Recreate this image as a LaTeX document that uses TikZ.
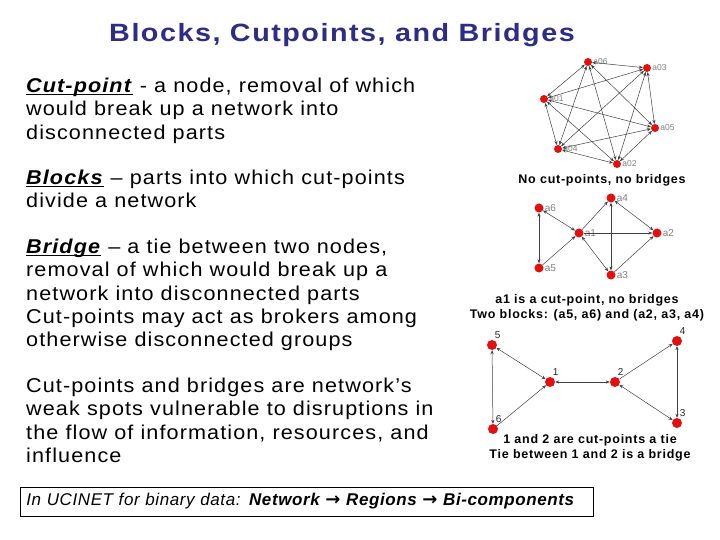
\documentclass[tikz,border=0pt]{standalone}
\usepackage{fontspec}
\setmainfont{Liberation Sans}
\newfontfamily\titlefont[FakeStretch=1.15,LetterSpace=6]{Liberation Sans}
\newfontfamily\bodyfont[FakeStretch=1.08,LetterSpace=5.5]{Liberation Sans}
\newfontfamily\capfont[LetterSpace=6]{Liberation Sans}
\newfontfamily\boxfont[LetterSpace=3.5]{Liberation Sans}
\newfontfamily\arrowfont{DejaVu Sans}
\usetikzlibrary{arrows.meta}
\definecolor{titleblue}{HTML}{2D2D87}
\definecolor{nodered}{HTML}{E41010}
\newcommand{\ulb}[1]{\underline{\smash{\textbf{\textit{#1}}}}}
\newcommand{\barr}{{\arrowfont\bfseries\fontsize{18}{19}\selectfont →}}
\tikzset{
  vx/.style={circle,fill=nodered,inner sep=0pt,minimum size=#1},
  vx/.default=9pt,
  body/.style={anchor=north west,inner sep=0pt,align=left,font=\bodyfont\fontsize{20}{23.2}\selectfont},
  captext/.style={inner sep=0pt,align=center,font=\capfont\bfseries\fontsize{12.5}{15}\selectfont},
  lbl/.style={text=gray,inner sep=1pt,font=\fontsize{8.5}{9}\selectfont},
  lblb/.style={text=gray,inner sep=1pt,font=\fontsize{10}{11}\selectfont},
  lblc/.style={text=black!85,inner sep=1pt,font=\fontsize{10}{11}\selectfont},
  tie/.style={black!75,line width=0.5pt,{Stealth[length=4pt,width=3.2pt]}-{Stealth[length=4pt,width=3.2pt]}},
  arc/.style={black!75,line width=0.5pt,-{Stealth[length=4pt,width=3.2pt]}},
}
\begin{document}
\begin{tikzpicture}[x=1pt,y=-1pt]
\useasboundingbox (0,0) rectangle (720,540);
% title
\node[text=titleblue,anchor=base,inner sep=0pt,font=\titlefont\bfseries\fontsize{25}{30}\selectfont] (title) at (342,42) {Blocks, Cutpoints, and Bridges};
% body text
\node[body] (p1) at (26,78) {\ulb{Cut-point} - a node, removal of which\\would break up a network into\\disconnected parts};
\node[body] (p2) at (26,170) {\ulb{Blocks} – parts into which cut-points\\divide a network};
\node[body] (p3) at (26,239) {\ulb{Bridge} – a tie between two nodes,\\removal of which would break up a\\network into disconnected parts\\Cut-points may act as brokers among\\otherwise disconnected groups};
\node[body] (p4) at (26,378) {Cut-points and bridges are network’s\\weak spots vulnerable to disruptions in\\the flow of information, resources, and\\influence};
% bottom box
\node[draw=black,line width=0.8pt,anchor=west,minimum width=573pt,minimum height=29pt,inner xsep=6pt,text width=561pt,align=left,font=\boxfont\fontsize{17}{19}\selectfont\itshape] (ucinet) at (20,501.5)
 {In UCINET for binary data: \textbf{Network \barr{} Regions \barr{} Bi-components}};
% graph 1
\node[vx=8pt] (a06) at (588,62) {};
\node[vx=8pt] (a03) at (647,68) {};
\node[vx=8pt] (a01) at (544,99) {};
\node[vx=8pt] (a05) at (655,128) {};
\node[vx=8pt] (a04) at (558,149) {};
\node[vx=8pt] (a02) at (617,164) {};
\foreach \n in {a06,a03,a01,a05,a04,a02}{\node[lbl,anchor=west] at (\n.east) {\n};}
\foreach \a/\b in {a06/a03,a06/a01,a06/a04,a06/a02,a06/a05,a03/a01,a03/a05,a03/a04,a03/a02,a01/a04,a01/a05,a01/a02,a04/a02,a04/a05,a02/a05}
  {\draw[tie] (\a) -- (\b);}
\node[captext] (c1) at (602,180) {No cut-points, no bridges};
% graph 2
\node[vx] (b6) at (539,208) {};
\node[vx] (b4) at (611,198) {};
\node[vx] (b1) at (579,233) {};
\node[vx] (b2) at (657,233) {};
\node[vx] (b5) at (539,268) {};
\node[vx] (b3) at (611,275) {};
\node[lblb,anchor=west] at (b6.east) {a6};
\node[lblb,anchor=west] at (b4.east) {a4};
\node[lblb,anchor=west] at (b1.east) {a1};
\node[lblb,anchor=west] at (b2.east) {a2};
\node[lblb,anchor=west] at (b5.east) {a5};
\node[lblb,anchor=west] at (b3.east) {a3};
\draw[tie] (b6) -- (b1);
\draw[tie] (b6) -- (b5);
\draw[arc] (b5) -- (b1);
\draw[arc] (b1) -- (b4);
\draw[arc] (b1) -- (b2);
\draw[tie] (b1) -- (b3);
\draw[tie] (b4) -- (b3);
\draw[tie] (b4) -- (b2);
\draw[arc] (b3) -- (b2);
\node[captext] (c2) at (587,308) {a1 is a cut-point, no bridges\\Two blocks: (a5, a6) and (a2, a3, a4)};
% graph 3
\node[vx=10pt] (g5) at (492,345) {};
\node[vx=10pt] (g1) at (550,382) {};
\node[vx=10pt] (g2) at (615,382) {};
\node[vx=10pt] (g4) at (677,341) {};
\node[vx=10pt] (g6) at (493,429) {};
\node[vx=10pt] (g3) at (677,423) {};
\foreach \n/\t in {g5/5,g1/1,g2/2,g4/4,g6/6,g3/3}{\node[lblc,anchor=south west] at ([xshift=-2pt,yshift=2pt]\n.north east) {\t};}
\draw[tie] (g5) -- (g1);
\draw[tie] (g5) -- (g6);
\draw[arc] (g6) -- (g1);
\draw[tie] (g1) -- (g2);
\draw[arc] (g2) -- (g4);
\draw[tie] (g4) -- (g3);
\draw[tie] (g2) -- (g3);
\node[captext] (c3) at (590,448) {1 and 2 are cut-points a tie\\Tie between 1 and 2 is a bridge};
\end{tikzpicture}
\end{document}
